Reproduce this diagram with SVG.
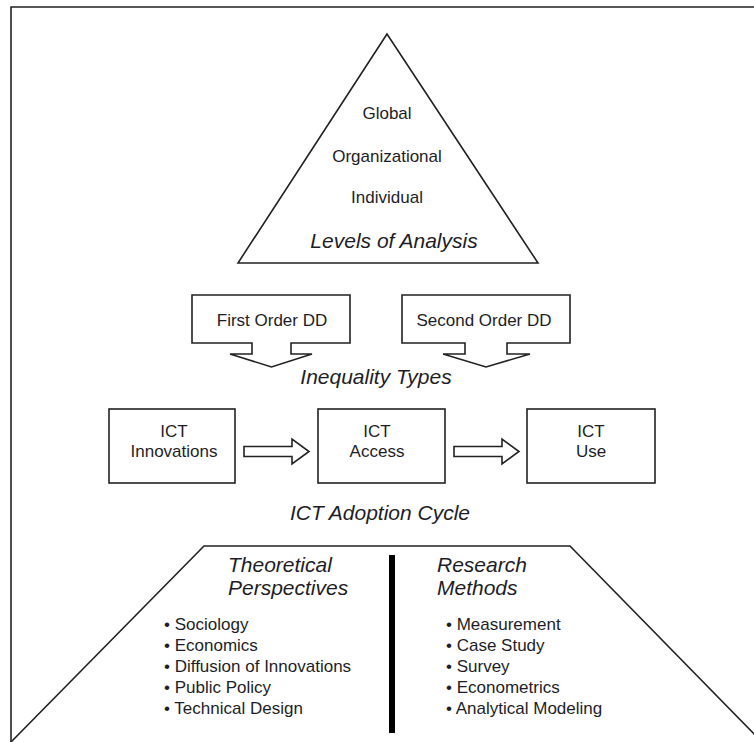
<svg xmlns="http://www.w3.org/2000/svg" width="754" height="742" viewBox="0 0 754 742">
  <style>
    .ln { fill: #fff; stroke: #222; stroke-width: 1.6; stroke-linejoin: miter; }
    .open { fill: none; stroke: #222; stroke-width: 1.6; }
    .t { font-family: "Liberation Sans", Arial, sans-serif; font-size: 17px; fill: #1e1e28; }
    .c { text-anchor: middle; }
    .h { font-family: "Liberation Sans", Arial, sans-serif; font-size: 21px; font-style: italic; fill: #1e1e28; }
  </style>

  <rect width="754" height="742" fill="#fff"/>

  <!-- page frame (continues past the right and bottom edges) -->
  <path class="open" d="M11,744 V7 H756" stroke-width="2"/>

  <!-- levels of analysis pyramid -->
  <g id="levels">
    <polygon class="ln" points="387,34 238,263 538,263"/>
    <text class="t c" x="387" y="119">Global</text>
    <text class="t c" x="387" y="162">Organizational</text>
    <text class="t c" x="387" y="203">Individual</text>
    <text class="h c" x="394" y="248">Levels of Analysis</text>
  </g>

  <!-- inequality types: two callout boxes pointing down -->
  <g id="first-order">
    <path class="ln" d="M192,295 H350 V343 H291 V354 H312 L271.5,367 L230,354 H252 V343 H192 Z"/>
    <text class="t c" x="272" y="326">First Order DD</text>
  </g>
  <g id="second-order">
    <path class="ln" d="M402,295 H570 V343 H507 V354 H530 L486,367 L443,354 H465 V343 H402 Z"/>
    <text class="t c" x="484" y="326">Second Order DD</text>
  </g>
  <g id="inequality-label">
    <text class="h c" x="376" y="384">Inequality Types</text>
  </g>

  <!-- ICT adoption cycle -->
  <g id="ict-innovations">
    <rect class="ln" x="109" y="409" width="126" height="74"/>
    <text class="t c" x="174" y="437">ICT</text>
    <text class="t c" x="174" y="457">Innovations</text>
  </g>
  <g id="ict-access">
    <rect class="ln" x="318" y="409" width="127" height="74"/>
    <text class="t c" x="377" y="437">ICT</text>
    <text class="t c" x="377" y="457">Access</text>
  </g>
  <g id="ict-use">
    <rect class="ln" x="527" y="409" width="128" height="74"/>
    <text class="t c" x="591" y="437">ICT</text>
    <text class="t c" x="591" y="457">Use</text>
  </g>

  <g id="connectors">
    <path class="ln" d="M244,446.5 H292 V439 L309,451.5 L292,464 V456.5 H244 Z"/>
    <path class="ln" d="M454,446.5 H502 V439 L519,451.5 L502,464 V456.5 H454 Z"/>
  </g>

  <g id="cycle-label">
    <text class="h c" x="380" y="520">ICT Adoption Cycle</text>
  </g>

  <!-- foundation: perspectives and methods -->
  <g id="foundation">
    <path class="open" d="M11,742 L204,546 H570 L756,736"/>
    <rect x="389" y="555" width="6" height="178" fill="#000"/>
  </g>
  <g id="perspectives">
    <text class="h" x="228" y="572">Theoretical</text>
    <text class="h" x="228" y="595">Perspectives</text>
    <text class="t" x="164" y="630">• Sociology</text>
    <text class="t" x="164" y="651">• Economics</text>
    <text class="t" x="164" y="672">• Diffusion of Innovations</text>
    <text class="t" x="164" y="693">• Public Policy</text>
    <text class="t" x="164" y="714">• Technical Design</text>
  </g>
  <g id="methods">
    <text class="h" x="437" y="572">Research</text>
    <text class="h" x="437" y="595">Methods</text>
    <text class="t" x="446" y="630">• Measurement</text>
    <text class="t" x="446" y="651">• Case Study</text>
    <text class="t" x="446" y="672">• Survey</text>
    <text class="t" x="446" y="693">• Econometrics</text>
    <text class="t" x="446" y="714">• Analytical Modeling</text>
  </g>
</svg>
